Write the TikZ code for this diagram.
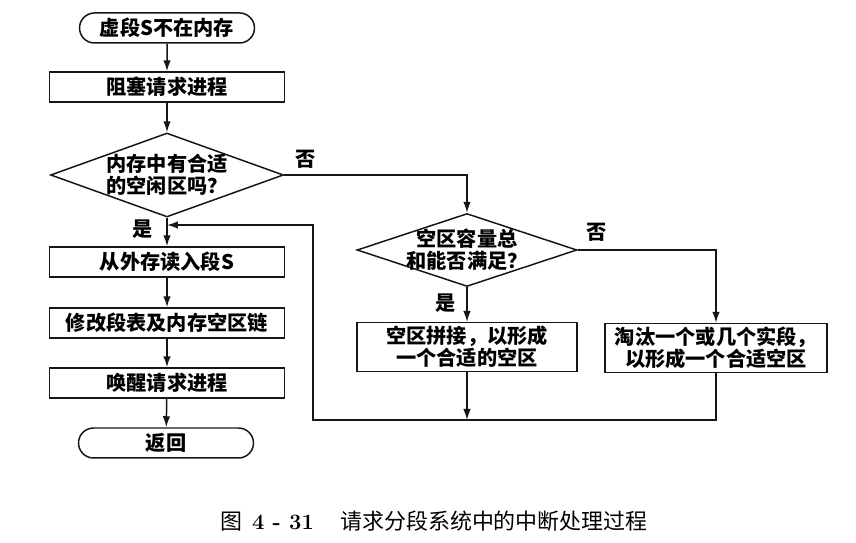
\documentclass[tikz,border=0pt]{standalone}
\usepackage{fontspec}
\newfontfamily\cjk{Noto Sans CJK SC}
\usepackage{tikz}
\usetikzlibrary{arrows.meta,positioning,shapes.misc,shapes.geometric}
\definecolor{ink}{HTML}{161616}

\begin{document}
\begin{tikzpicture}[x=0.02cm,y=-0.02cm,>={Latex[length=2.2mm,width=1.5mm]},
  line width=0.85pt,draw=ink,
  font={\cjk\bfseries\fontsize{11.5}{12.5}\selectfont},
  term/.style={draw,rounded rectangle,minimum width=3.5cm,minimum height=0.6cm,inner sep=0pt},
  proc/.style={draw,minimum width=4.7cm,minimum height=0.6cm,inner sep=0pt},
  wide/.style={draw,align=center,minimum height=0.96cm,inner sep=2pt},
  cond/.style={draw,diamond,align=center,inner ysep=0pt,inner xsep=-8pt},
  tag/.style={font={\cjk\bfseries\fontsize{11.5}{12.5}\selectfont}}]
\useasboundingbox (0,0) rectangle (856,543);
% left column
\node[term] (start) at (167,28) {虚段S不在内存};
\node[proc] (block) at (167,87) {阻塞请求进程};
\node[cond,aspect=2.77,minimum width=4.66cm,minimum height=1.68cm] (fit) at (167,175) {内存中有合适\\的空闲区吗？};
\node[proc] (read) at (167,262) {从外存读入段S};
\node[proc] (modify) at (167,323) {修改段表及内存空区链};
\node[proc] (wake) at (167,383) {唤醒请求进程};
\node[term] (ret) at (166,443) {返回};
% right part
\node[cond,aspect=3,minimum width=4.4cm,minimum height=1.46cm] (total) at (467,250) {空区容量总\\和能否满足？};
\node[wide,minimum width=4.4cm] (merge) at (467,347) {空区拼接，以形成\\一个合适的空区};
\node[wide,minimum width=4.44cm] (evict) at (716,348) {淘汰一个或几个实段，\\以形成一个合适空区};
\coordinate (join) at (467,420);
\coordinate (corner) at (313,420);
\coordinate (back) at (167,225);
% labels
\node[tag] (no1) at (306,159) {否};
\node[tag] (yes1) at (143,229) {是};
\node[tag] (no2) at (597,232) {否};
\node[tag] (yes2) at (446,303) {是};
% connectors
\draw[->] (start) -- (block);
\draw[->] (block) -- (fit);
\draw[->] (fit) -- (read);
\draw[->] (read) -- (modify);
\draw[->] (modify) -- (wake);
\draw[->] (wake) -- (ret);
\draw[->] (fit.east) -| (total.north);
\draw[->] (total.east) -| (evict.north);
\draw[->] (total) -- (merge);
\draw[->] (merge) -- (join);
\draw[->] (evict.south) |- (corner) |- (back);
% caption
\node[font={\cjk\fontsize{12.5}{14}\selectfont}] (cap) at (434,521) {图\ \ {\normalfont\bfseries 4 - 31}\hspace{1.2em}请求分段系统中的中断处理过程};
\end{tikzpicture}
\end{document}
